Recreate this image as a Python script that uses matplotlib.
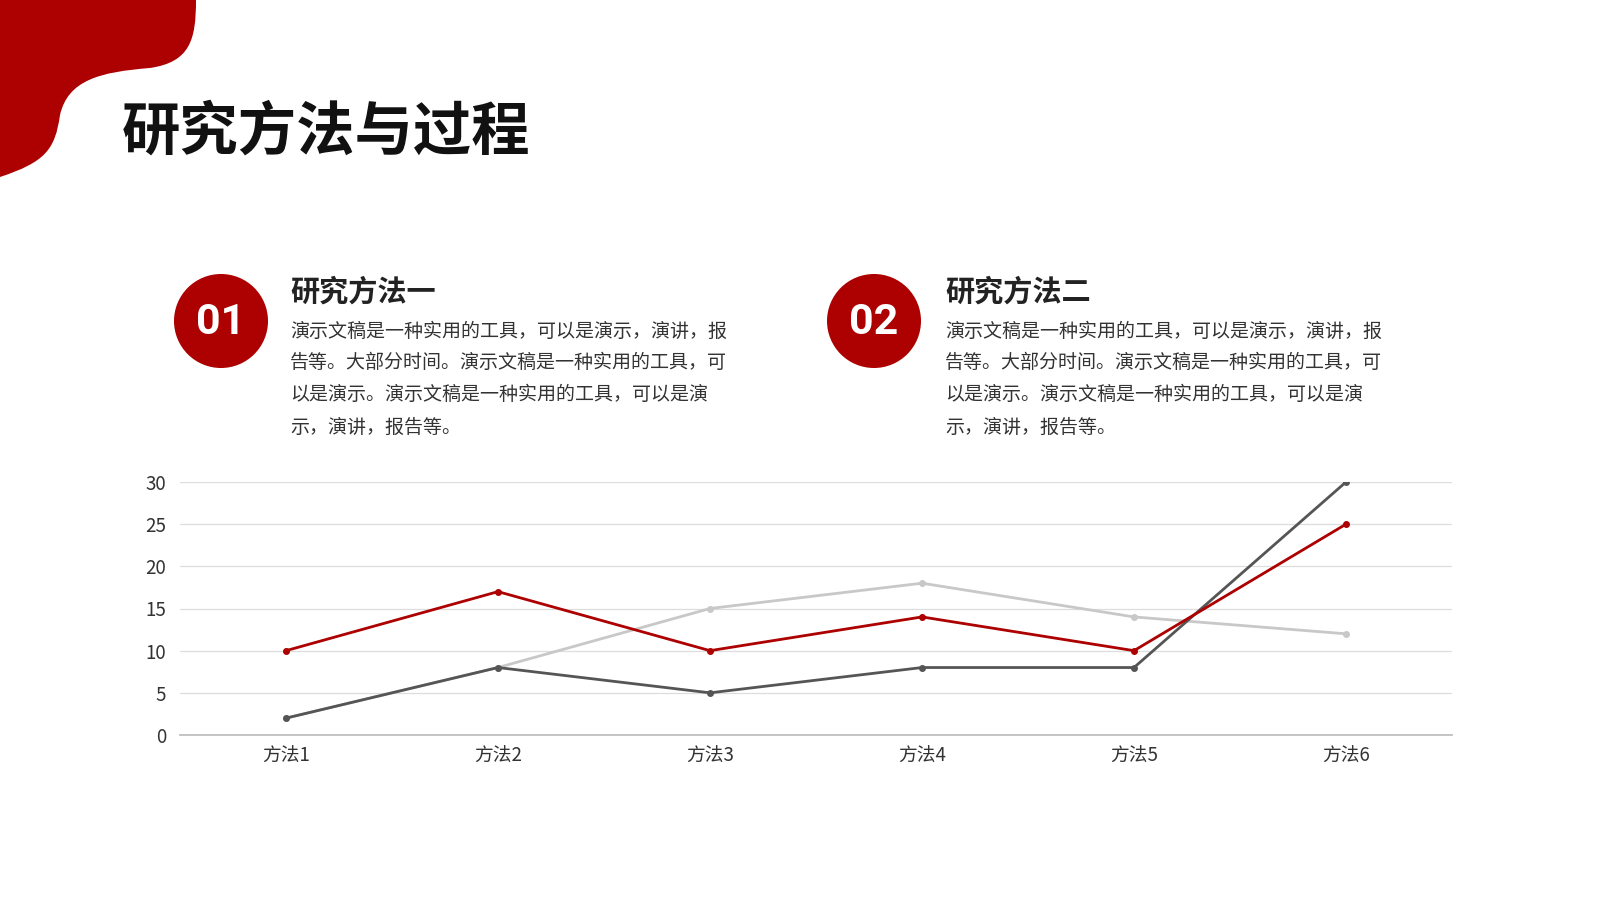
import matplotlib
matplotlib.use('Agg')
import matplotlib.pyplot as plt
from matplotlib.path import Path
from matplotlib.patches import PathPatch, Circle

plt.rcParams['font.family'] = ['Noto Sans CJK SC', 'DejaVu Sans']

# 数据
categories = ['方法1', '方法2', '方法3', '方法4', '方法5', '方法6']
series_red = [10, 17, 10, 14, 10, 25]
series_dark = [2, 8, 5, 8, 8, 30]
series_light = [2, 8, 15, 18, 14, 12]
y_ticks = [0, 5, 10, 15, 20, 25, 30]

title = '研究方法与过程'
headings = ['研究方法一', '研究方法二']
numbers = ['01', '02']
body_lines = [
    '演示文稿是一种实用的工具，可以是演示，演讲，报',
    '告等。大部分时间。演示文稿是一种实用的工具，可',
    '以是演示。演示文稿是一种实用的工具，可以是演',
    '示，演讲，报告等。',
]

RED = '#AD0000'
DARK = '#555555'
LIGHT = '#C8C8C8'

fig = plt.figure(figsize=(16, 9), dpi=100)

# 背景层(像素坐标)
bg = fig.add_axes([0, 0, 1, 1])
bg.set_xlim(0, 1600)
bg.set_ylim(900, 0)
bg.axis('off')

verts = [(0, 0), (196, 0),
         (196, 40), (190, 62), (150, 68),
         (100, 72), (68, 80), (60, 115),
         (55, 150), (45, 162), (0, 177),
         (0, 0)]
codes = [Path.MOVETO, Path.LINETO,
         Path.CURVE4, Path.CURVE4, Path.CURVE4,
         Path.CURVE4, Path.CURVE4, Path.CURVE4,
         Path.CURVE4, Path.CURVE4, Path.CURVE4,
         Path.CLOSEPOLY]
bg.add_patch(PathPatch(Path(verts, codes), facecolor=RED, edgecolor='none'))

bg.text(122, 133, title, fontsize=42, fontweight=900, color='#111111',
        va='center', ha='left')

for i, (cx, tx) in enumerate([(221, 290), (874, 945)]):
    bg.add_patch(Circle((cx, 321), 47, facecolor=RED, edgecolor='none'))
    bg.text(cx, 322, numbers[i], fontsize=31, fontweight='bold', color='white',
            ha='center', va='center', family=['Roboto', 'DejaVu Sans'])
    bg.text(tx, 292, headings[i], fontsize=21, fontweight='bold', color='#222222',
            ha='left', va='center')
    for j, line in enumerate(body_lines):
        bg.text(tx, 331 + j * 32, line, fontsize=13.7, color='#333333',
                ha='left', va='center')

# 折线图
ax = fig.add_axes([180 / 1600, 1 - 735 / 900, (1452 - 180) / 1600, (735 - 482) / 900])
x = range(len(categories))
ax.plot(x, series_light, color=LIGHT, lw=2, marker='o', ms=4, zorder=3)
ax.plot(x, series_dark, color=DARK, lw=2, marker='o', ms=4, zorder=4)
ax.plot(x, series_red, color=RED, lw=2, marker='o', ms=4, zorder=5)

ax.set_xlim(-0.5, len(categories) - 0.5)
ax.set_ylim(0, 30)
ax.set_yticks(y_ticks)
ax.set_xticks(list(x))
ax.set_xticklabels(categories)
ax.tick_params(axis='both', length=0, labelsize=13.5, labelcolor='#333333')
ax.tick_params(axis='x', pad=8)
ax.tick_params(axis='y', pad=10)
ax.grid(axis='y', color='#DDDDDD', lw=0.9)
ax.set_axisbelow(True)
for s in ['top', 'right', 'left']:
    ax.spines[s].set_visible(False)
ax.spines['bottom'].set_color('#BFBFBF')
ax.spines['bottom'].set_linewidth(1.3)

fig.savefig('out.png', dpi=100)
